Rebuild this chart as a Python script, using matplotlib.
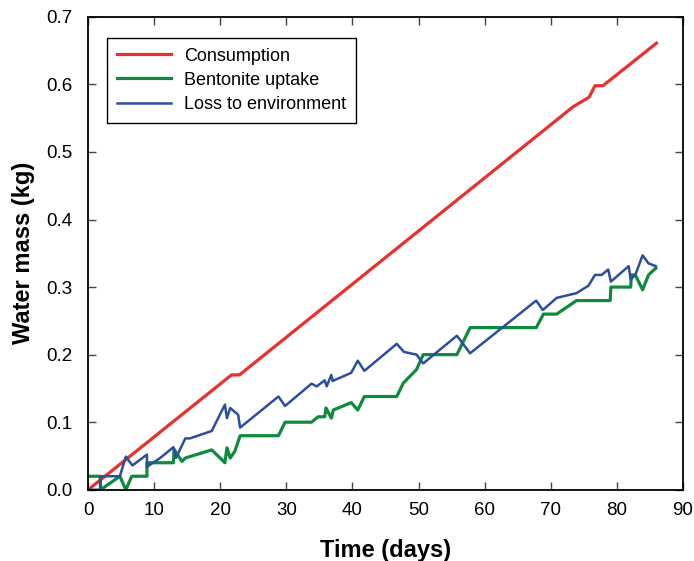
import matplotlib
matplotlib.use("Agg")
import matplotlib.pyplot as plt

plt.rcParams['font.family'] = ['Liberation Sans', 'DejaVu Sans']

# Water balance over time (days, kg)
consumption_days = [0, 21.7, 22.9, 73.4, 75.8, 76.7, 77.9, 86.0]
consumption_kg = [0, 0.170, 0.170, 0.567, 0.581, 0.598, 0.598, 0.661]

bentonite_days = [0, 1.8, 1.9, 4.8, 5.7, 6.6, 8.9, 8.9, 12.9, 13.0, 14.2, 14.7,
                  18.7, 20.7, 21.0, 21.5, 22.2, 23.0, 28.8, 29.8, 33.8, 34.8,
                  35.8, 36.0, 36.8, 37.1, 39.8, 40.8, 41.8, 46.7, 47.7, 49.7,
                  50.7, 55.8, 57.8, 67.8, 68.9, 70.9, 73.9, 79.0, 79.1, 82.1,
                  82.2, 82.8, 83.9, 84.8, 85.9]
bentonite_kg = [0.02, 0.02, 0.0, 0.02, 0.0, 0.02, 0.02, 0.04, 0.04, 0.06, 0.042, 0.047,
                0.059, 0.04, 0.062, 0.047, 0.057, 0.08, 0.08, 0.10, 0.10, 0.108,
                0.108, 0.121, 0.106, 0.118, 0.129, 0.118, 0.138, 0.138, 0.158, 0.178,
                0.20, 0.20, 0.24, 0.24, 0.26, 0.26, 0.28, 0.28, 0.30, 0.30,
                0.318, 0.318, 0.296, 0.318, 0.328]

loss_days = [0, 1.8, 1.9, 4.8, 5.7, 6.7, 8.9, 8.9, 10.9, 12.9, 13.3, 14.7, 15.4,
             18.7, 20.7, 21.0, 21.5, 22.7, 23.0, 28.8, 29.8, 33.8, 34.6, 35.8,
             36.1, 36.8, 37.0, 39.8, 40.8, 41.8, 46.7, 47.8, 49.7, 50.7, 55.8,
             57.8, 67.8, 68.8, 70.9, 73.9, 75.7, 76.7, 77.7, 78.7, 79.1, 81.8,
             82.1, 82.8, 83.9, 84.8, 85.9]
loss_kg = [0, 0, 0.02, 0.02, 0.049, 0.036, 0.052, 0.034, 0.047, 0.063, 0.047, 0.076, 0.076,
           0.087, 0.126, 0.106, 0.121, 0.111, 0.092, 0.138, 0.124, 0.157, 0.153, 0.162,
           0.153, 0.170, 0.161, 0.173, 0.191, 0.176, 0.216, 0.204, 0.20, 0.187, 0.228,
           0.202, 0.28, 0.266, 0.284, 0.291, 0.302, 0.318, 0.318, 0.326, 0.308, 0.331,
           0.311, 0.318, 0.347, 0.335, 0.331]

fig = plt.figure(figsize=(6.94, 5.61), dpi=100)
ax = fig.add_axes([0.127, 0.127, 0.857, 0.843])

ax.plot(consumption_days, consumption_kg, color='#e8302f', lw=2.3, label='Consumption')
ax.plot(bentonite_days, bentonite_kg, color='#0f8a3c', lw=2.3, label='Bentonite uptake')
ax.plot(loss_days, loss_kg, color='#2a4f9f', lw=1.8, label='Loss to environment')

ax.set_xlim(0, 90)
ax.set_ylim(0, 0.7)
ax.set_xticks(range(0, 91, 10))
ax.set_yticks([0.0, 0.1, 0.2, 0.3, 0.4, 0.5, 0.6, 0.7])
ax.yaxis.set_major_formatter(matplotlib.ticker.FormatStrFormatter('%.1f'))
ax.tick_params(direction='in', length=6, width=1, top=True, right=True,
               labelsize=13.5, color='#444444')
ax.tick_params(axis='x', pad=9)
ax.tick_params(axis='y', pad=11)
for s in ax.spines.values():
    s.set_linewidth(1.3)

ax.set_xlabel('Time (days)', fontsize=17, fontweight='bold', labelpad=14)
ax.set_ylabel('Water mass (kg)', fontsize=17, fontweight='bold', labelpad=8)

leg = ax.legend(loc='upper left', bbox_to_anchor=(0.032, 0.956), fontsize=13,
                fancybox=False, edgecolor='black', framealpha=1,
                handlelength=3.0, borderpad=0.55, labelspacing=0.4, handletextpad=0.7,
                borderaxespad=0)
leg.get_frame().set_linewidth(1.0)

fig.savefig('out.png', dpi=100)
